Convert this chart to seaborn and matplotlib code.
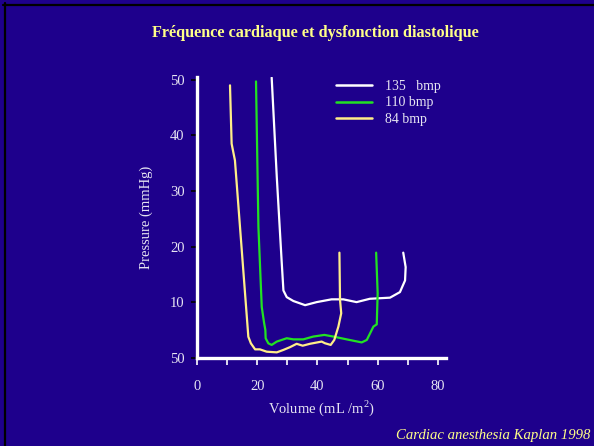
import matplotlib
matplotlib.use("Agg")
import matplotlib.pyplot as plt
import seaborn as sns
import pandas as pd
from matplotlib.lines import Line2D

# ---- data ----
series_names = ["135   bmp", "110 bmp", "84 bmp"]

vol_135 = [24.8, 26.5, 28.1, 28.7, 29.8, 32.0, 35.9, 39.75, 44.7, 48.6, 53.0, 57.4, 64.1, 67.4, 69.1, 69.3, 68.5]
prs_135 = [50.4, 32.5, 17.5, 12.1, 10.9, 10.2, 9.45, 10.0, 10.5, 10.5, 10.0, 10.6, 10.8, 11.8, 13.9, 16.3, 18.9]

vol_110 = [19.6, 20.4, 21.5, 22.3, 22.7, 22.8, 23.7, 24.8, 26.5, 29.8, 32.0, 35.3, 38.6, 42.3, 45.3, 49.7, 54.7, 56.4, 58.6, 59.7, 60.0, 59.5]
prs_110 = [49.7, 23.5, 9.15, 6.2, 5.0, 3.5, 2.58, 2.3, 2.9, 3.5, 3.3, 3.3, 3.8, 4.1, 3.8, 3.3, 2.75, 3.2, 5.6, 6.0, 11.6, 18.9]

vol_84 = [10.96, 11.5, 12.6, 17.05, 17.9, 19.3, 20.9, 23.15, 26.5, 28.7, 30.9, 33.1, 35.1, 37.5, 41.4, 42.5, 44.4, 45.6, 46.96, 47.9, 47.5, 47.3]
prs_84 = [49.0, 38.5, 35.5, 3.77, 2.58, 1.5, 1.5, 1.08, 0.96, 1.4, 1.9, 2.5, 2.16, 2.5, 2.9, 2.6, 2.3, 3.2, 5.6, 8.0, 10.4, 18.9]

x_ticks = [0, 10, 20, 30, 40, 50, 60, 70, 80]
x_tick_labels = ["0", "", "20", "", "40", "", "60", "", "80"]
y_ticks = [0, 10, 20, 30, 40, 50]
y_tick_labels = ["50", "10", "20", "30", "40", "50"]

title = "Fréquence cardiaque et dysfonction diastolique"
x_label = "Volume (mL /m$^2$)"
y_label = "Pressure (mmHg)"
footer = "Cardiac anesthesia Kaplan 1998"

# ---- styling ----
BG = "#1e008c"
TXT = "#e6e4f2"
YEL = "#ffff88"
colors = {series_names[0]: "#ffffff", series_names[1]: "#22e222", series_names[2]: "#ffee88"}

sns.set_style("ticks", {"axes.facecolor": BG, "figure.facecolor": BG})
plt.rcParams["font.family"] = ["Liberation Serif", "DejaVu Serif"]
plt.rcParams["mathtext.fontset"] = "custom"
plt.rcParams["mathtext.rm"] = "Liberation Serif"

frames = []
for name, vx, vy in [(series_names[0], vol_135, prs_135),
                     (series_names[1], vol_110, prs_110),
                     (series_names[2], vol_84, prs_84)]:
    d = pd.DataFrame({"Volume": vx, "Pressure": vy})
    d["series"] = name
    frames.append(d)
df = pd.concat(frames, ignore_index=True)

W, H = 594, 446
fig = plt.figure(figsize=(W / 100, H / 100), dpi=100)
fig.patch.set_facecolor(BG)

left, right = 197 / W, 446 / W
bottom, top = 1 - 357.7 / H, 1 - 77 / H
ax = fig.add_axes([left, bottom, right - left, top - bottom])
ax.set_facecolor(BG)

sns.lineplot(data=df, x="Volume", y="Pressure", hue="series", units="series",
             estimator=None, sort=False, palette=colors, linewidth=1.6,
             hue_order=series_names, ax=ax, legend=False)

ax.set_xlim(0, 82.7)
ax.set_ylim(0, 50.5)

for s in ["top", "right"]:
    ax.spines[s].set_visible(False)
for s in ["left", "bottom"]:
    ax.spines[s].set_color("white")
    ax.spines[s].set_linewidth(2.4)
    ax.spines[s].set_capstyle("projecting")

ax.set_xticks(x_ticks)
ax.set_xticklabels(x_tick_labels)
ax.set_yticks(y_ticks)
ax.set_yticklabels(y_tick_labels)
ax.tick_params(axis="x", colors="white", labelcolor=TXT, length=5, width=1.2,
               direction="out", pad=11, labelsize=10.5)
ax.tick_params(axis="y", colors="black", labelcolor=TXT, length=4, width=1.2,
               direction="out", pad=5, labelsize=10.5)

ax.set_xlabel(x_label, color=TXT, fontsize=10.5, labelpad=4)
ax.set_ylabel(y_label, color=TXT, fontsize=10.5, labelpad=12)

handles = [Line2D([0], [0], color=colors[n], lw=1.8) for n in series_names]
leg = ax.legend(handles, series_names, loc="upper left",
                bbox_to_anchor=(336 / W, 1 - 80 / H), bbox_transform=fig.transFigure,
                frameon=False, fontsize=10, handlelength=2.6, handletextpad=0.9,
                labelspacing=0.25, borderaxespad=0, borderpad=0)
for t in leg.get_texts():
    t.set_color(TXT)

fig.text(315 / W, 1 - 33 / H, title, ha="center", va="center", color=YEL,
         fontsize=11.7, fontweight="bold")
fig.text(590 / W, 1 - 435 / H, footer, ha="right", va="center", color=YEL,
         fontsize=10.6, style="italic")

# dark edge of the slide frame (top and left)
fig.add_artist(Line2D([3 / W, 1], [1 - 4.5 / H, 1 - 4.5 / H], color="black", lw=1.6,
                      transform=fig.transFigure))
fig.add_artist(Line2D([4.5 / W, 4.5 / W], [0, 1 - 3 / H], color="black", lw=1.6,
                      transform=fig.transFigure))

fig.savefig("out.png", dpi=100, facecolor=BG)
